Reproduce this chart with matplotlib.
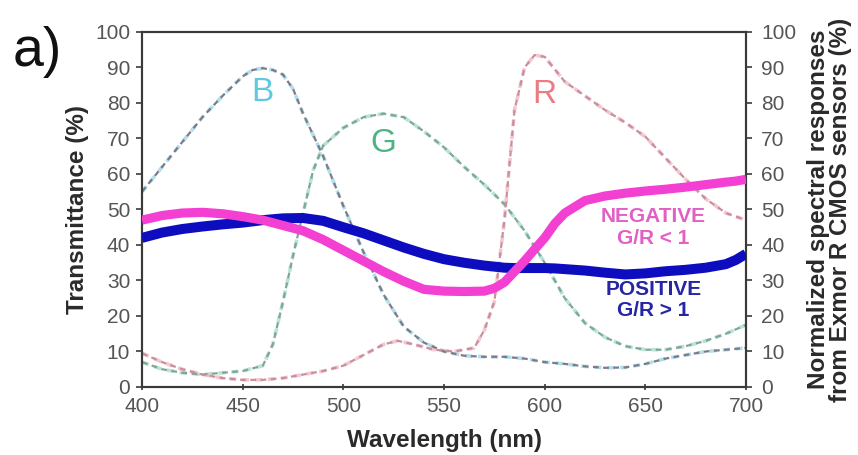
import matplotlib
matplotlib.use("Agg")
import matplotlib.pyplot as plt

plt.rcParams['font.family'] = ['Liberation Sans', 'DejaVu Sans']

# ---- data ----
# camera sensor spectral responses (right axis, %)
b_wl = [400, 410, 420, 430, 440, 450, 455, 460, 465, 470, 475, 480, 490, 500, 510, 520,
        530, 540, 550, 560, 570, 580, 590, 600, 610, 620, 630, 640, 650, 660, 670, 680, 690, 700]
b_resp = [55, 62, 69, 76, 82, 87.5, 89.3, 89.8, 89.3, 88, 84, 77, 65, 51, 38, 26,
          17, 12.5, 10, 8.8, 8.5, 8.5, 8, 7, 6.5, 5.8, 5.4, 5.5, 6.5, 8, 9, 10, 10.5, 11]

g_wl = [400, 410, 420, 430, 440, 450, 460, 465, 470, 475, 480, 485, 490, 500, 510, 520,
        530, 540, 550, 560, 570, 580, 590, 600, 610, 620, 630, 640, 650, 660, 670, 680, 690, 700]
g_resp = [7, 5, 4, 3.5, 4, 4.5, 6, 12, 24, 37, 49, 61, 68, 73, 76, 77,
          76, 72, 67.5, 62, 57, 51.5, 44, 35, 25, 18, 14, 11.5, 10.5, 10.5, 11.5, 13, 15, 17.5]

r_wl = [400, 410, 420, 430, 440, 450, 460, 470, 480, 490, 500, 510, 520, 527, 535, 545,
        555, 565, 570, 575, 580, 585, 590, 595, 600, 610, 620, 630, 640, 650, 660, 670,
        680, 690, 700]
r_resp = [9.5, 7, 5, 3.5, 2.5, 2, 2, 2.5, 3.5, 4.5, 6, 9, 12, 13, 12, 10.5,
          10, 11, 16, 24, 47, 78, 90, 93.5, 93, 86, 82, 78, 74.5, 70.5, 64.5, 58.5,
          53, 49, 47]

# transmittance curves (left axis, %)
t_wl = [400, 410, 420, 430, 440, 450, 460, 470, 480, 490, 500, 510, 520, 530, 540, 550,
        560, 570, 575, 580, 585, 590, 595, 600, 605, 610, 620, 630, 640, 650, 660, 670,
        680, 690, 695, 700]
positive = [42, 43.5, 44.5, 45.2, 45.8, 46.3, 47, 47.5, 47.6, 46.8, 45, 43.3, 41.3, 39.3, 37.5, 36,
            35, 34.2, 33.9, 33.6, 33.5, 33.5, 33.5, 33.5, 33.4, 33.2, 32.8, 32.2, 31.7, 32, 32.6, 33,
            33.6, 34.6, 35.8, 37.5]
negative = [47, 48.3, 49, 49.2, 48.8, 48, 47, 45.5, 44, 41.5, 38.5, 35.5, 32.5, 29.8, 27.5, 27,
            26.9, 27, 27.8, 29.5, 32.5, 35.5, 38.8, 42, 46, 49, 52.5, 53.8, 54.6, 55.2, 55.7, 56.3,
            57, 57.7, 58, 58.5]

x_ticks = [400, 450, 500, 550, 600, 650, 700]
y_ticks = [0, 10, 20, 30, 40, 50, 60, 70, 80, 90, 100]

# ---- figure ----
fig = plt.figure(figsize=(8.58, 4.55), dpi=100)
ax = fig.add_axes([0.1655, 0.1495, 0.704, 0.7802])
ax2 = ax.twinx()

dash = (0, (2.6, 2.0))
halo = (0, (2.0, 1.6))
for wl, resp, col, core in [(b_wl, b_resp, '#9fd8e6', '#7f7a88'),
                            (g_wl, g_resp, '#a8dcc8', '#7fa698'),
                            (r_wl, r_resp, '#f2b8c4', '#c7909c')]:
    ax2.plot(wl, resp, color=col, lw=2.6, linestyle=halo, alpha=0.8, zorder=1)
    ax2.plot(wl, resp, color=core, lw=1.6, linestyle=dash, zorder=2)

ax2.set_zorder(1)
ax.set_zorder(2)
ax.patch.set_visible(False)

ax.plot(t_wl, positive, color='#0d0dbf', lw=7.2, solid_capstyle='butt', zorder=3)
ax.plot(t_wl, negative, color='#f43fd3', lw=6.6, solid_capstyle='butt', zorder=4)

for a in (ax, ax2):
    a.set_xlim(400, 700)
    a.set_ylim(0, 100)
    a.set_yticks(y_ticks)
    for s in a.spines.values():
        s.set_color('#3a3a3a')
        s.set_linewidth(1.5)

ax.set_xticks(x_ticks)
ax.tick_params(axis='x', direction='inout', length=5, width=1.2, colors='#3a3a3a',
               labelcolor='#555555', labelsize=15, pad=5)
ax.tick_params(axis='y', direction='out', length=4, width=1.2, colors='#3a3a3a',
               labelcolor='#555555', labelsize=15, pad=4.5)
ax2.tick_params(axis='y', direction='out', length=4, width=1.2, colors='#3a3a3a',
                labelcolor='#555555', labelsize=15, pad=7)

ax.set_xlabel('Wavelength (nm)', fontsize=17.5, fontweight='bold', color='#2a2a2a')
ax.xaxis.set_label_coords(0.5, -0.117)
ax.set_ylabel('Transmittance (%)', fontsize=17.5, fontweight='bold', color='#2a2a2a')
ax.yaxis.set_label_coords(-0.088, 0.5)
ax2.set_ylabel('Normalized spectral responses\nfrom Exmor R CMOS sensors (%)', fontsize=17.5,
               fontweight='bold', color='#2a2a2a', linespacing=0.95)
ax2.yaxis.set_label_coords(1.101, 0.5)

# channel labels
ax.text(459.6, 83, 'B', color='#5ec9e0', fontsize=24, ha='center', va='center', zorder=5)
ax.text(520, 68.6, 'G', color='#4db383', fontsize=24, ha='center', va='center', zorder=5)
ax.text(600, 82.5, 'R', color='#ea7c84', fontsize=24, ha='center', va='center', zorder=5)

ax.text(654, 44.9, 'NEGATIVE\nG/R < 1', color='#e35fc4', fontsize=15, fontweight='bold',
        ha='center', va='center', linespacing=1.15, zorder=5)
ax.text(654, 24.5, 'POSITIVE\nG/R > 1', color='#2525a5', fontsize=15, fontweight='bold',
        ha='center', va='center', linespacing=1.15, zorder=5)

fig.text(0.044, 0.886, 'a)', fontsize=40, color='#111111', ha='center', va='center')

fig.savefig('out.png', dpi=100)
